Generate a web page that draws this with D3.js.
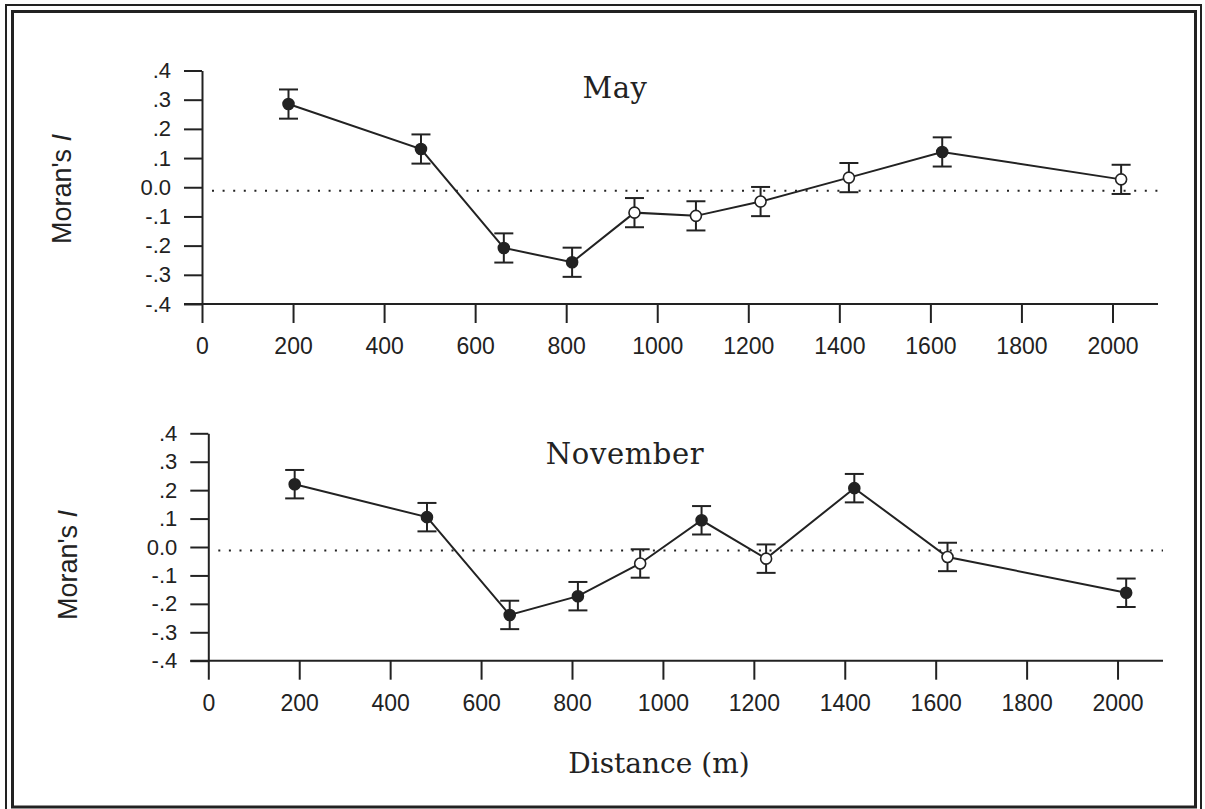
<!DOCTYPE html>
<html>
<head>
<meta charset="utf-8">
<script src="https://cdn.jsdelivr.net/npm/d3@7"></script>
<style>
  body { margin: 0; background: #fff; }
  svg { display: block; }
</style>
</head>
<body>
<div id="chart"></div>
<script>
// distance classes (m), shared by both panels
const distances = [190, 481, 663, 813, 950, 1085, 1227, 1421, 1626, 2019];

const mayValues = [0.285, 0.131, -0.208, -0.257, -0.087, -0.098, -0.049, 0.033, 0.121, 0.027];
const mayErrors = [0.05, 0.05, 0.05, 0.05, 0.05, 0.05, 0.05, 0.05, 0.05, 0.05];
const maySignificant = [true, true, true, true, false, false, false, false, true, false];

const novValues = [0.221, 0.105, -0.239, -0.173, -0.058, 0.094, -0.041, 0.207, -0.035, -0.161];
const novErrors = [0.05, 0.05, 0.05, 0.05, 0.05, 0.05, 0.05, 0.05, 0.05, 0.05];
const novSignificant = [true, true, true, true, false, true, false, true, false, true];

const yTicks = [0.4, 0.3, 0.2, 0.1, 0, -0.1, -0.2, -0.3, -0.4];
const yTickLabels = [".4", ".3", ".2", ".1", "0.0", "-.1", "-.2", "-.3", "-.4"];
const xTicks = [0, 200, 400, 600, 800, 1000, 1200, 1400, 1600, 1800, 2000];
const expectedI = -0.012;

const ink = "#222";
const width = 1205, height = 809;

const svg = d3.select("#chart").append("svg")
    .attr("width", width)
    .attr("height", height);

// double frame around the figure
svg.append("rect")
    .attr("x", 6).attr("y", 5)
    .attr("width", 1195).attr("height", 808)
    .attr("fill", "none").attr("stroke", ink).attr("stroke-width", 2);
svg.append("rect")
    .attr("x", 12.5).attr("y", 11.5)
    .attr("width", 1183).attr("height", 795.5)
    .attr("fill", "none").attr("stroke", ink).attr("stroke-width", 3);

function drawPanel(p) {
    const x = d3.scaleLinear().domain([0, 2100]).range([p.left, p.right]);
    const y = d3.scaleLinear().domain([-0.4, 0.4]).range([p.bottom, p.top]);
    const g = svg.append("g");

    const yAxis = g.append("g")
        .attr("transform", `translate(${p.left},0)`)
        .call(d3.axisLeft(y)
            .tickValues(yTicks)
            .tickSize(18)
            .tickSizeOuter(0)
            .tickPadding(13)
            .tickFormat((d, i) => yTickLabels[i]));

    const xAxis = g.append("g")
        .attr("transform", `translate(0,${p.bottom})`)
        .call(d3.axisBottom(x)
            .tickValues(xTicks)
            .tickSize(19)
            .tickSizeOuter(0)
            .tickPadding(15)
            .tickFormat(d3.format("d")));

    [yAxis, xAxis].forEach(a => {
        a.select(".domain").attr("stroke", ink).attr("stroke-width", 2);
        a.selectAll(".tick line").attr("stroke", ink).attr("stroke-width", 2);
        a.selectAll(".tick text")
            .attr("fill", ink)
            .attr("font-family", "'Liberation Sans', Arial, sans-serif");
    });
    yAxis.selectAll(".tick text").attr("font-size", 22);
    xAxis.selectAll(".tick text").attr("font-size", 23);
    // extend the x axis line under the -.4 tick
    xAxis.select(".domain").attr("d", `M${p.left - 18},0H${p.right}`);

    // expected value of Moran's I
    g.append("line")
        .attr("x1", p.left + 10).attr("x2", p.right)
        .attr("y1", y(expectedI)).attr("y2", y(expectedI))
        .attr("stroke", ink).attr("stroke-width", 2)
        .attr("stroke-dasharray", "2,8.6");

    const rows = distances.map((d, i) => ({
        d, v: p.values[i], e: p.errors[i], sig: p.significant[i]
    }));

    g.append("path")
        .datum(rows)
        .attr("fill", "none")
        .attr("stroke", ink)
        .attr("stroke-width", 2)
        .attr("d", d3.line().x(r => x(r.d)).y(r => y(r.v)));

    const bars = g.selectAll(".err").data(rows).enter().append("g")
        .attr("class", "err")
        .attr("stroke", ink)
        .attr("stroke-width", 2);
    bars.append("line")
        .attr("x1", r => x(r.d)).attr("x2", r => x(r.d))
        .attr("y1", r => y(r.v + r.e)).attr("y2", r => y(r.v - r.e));
    [1, -1].forEach(s => {
        bars.append("line")
            .attr("x1", r => x(r.d) - 9.5).attr("x2", r => x(r.d) + 9.5)
            .attr("y1", r => y(r.v + s * r.e)).attr("y2", r => y(r.v + s * r.e));
    });

    g.selectAll(".pt").data(rows).enter().append("circle")
        .attr("class", "pt")
        .attr("cx", r => x(r.d))
        .attr("cy", r => y(r.v))
        .attr("r", r => r.sig ? 5.5 : 5.5)
        .attr("fill", r => r.sig ? ink : "#fff")
        .attr("stroke", ink)
        .attr("stroke-width", 1.6);

    g.append("text")
        .attr("x", p.titleX).attr("y", p.titleY)
        .attr("text-anchor", "middle")
        .attr("font-family", "'DejaVu Serif', serif")
        .attr("font-size", 29)
        .attr("letter-spacing", 0.6)
        .attr("fill", ink)
        .text(p.title);

    const yl = g.append("text")
        .attr("transform", `translate(${p.labelX},${p.labelY}) rotate(-90)`)
        .attr("text-anchor", "middle")
        .attr("font-family", "'Liberation Sans', Arial, sans-serif")
        .attr("font-size", 27)
        .attr("fill", ink);
    yl.append("tspan").text("Moran's ");
    yl.append("tspan").attr("font-style", "italic").text("I");
}

drawPanel({
    left: 202, right: 1158, top: 70.5, bottom: 304,
    values: mayValues, errors: mayErrors, significant: maySignificant,
    title: "May", titleX: 615, titleY: 98,
    labelX: 71, labelY: 189
});

drawPanel({
    left: 208.3, right: 1163, top: 433.3, bottom: 660.7,
    values: novValues, errors: novErrors, significant: novSignificant,
    title: "November", titleX: 625, titleY: 464,
    labelX: 77, labelY: 565
});

svg.append("text")
    .attr("x", 659).attr("y", 773)
    .attr("text-anchor", "middle")
    .attr("font-family", "'DejaVu Serif', serif")
    .attr("font-size", 28)
    .attr("fill", ink)
    .text("Distance (m)");
</script>
</body>
</html>
